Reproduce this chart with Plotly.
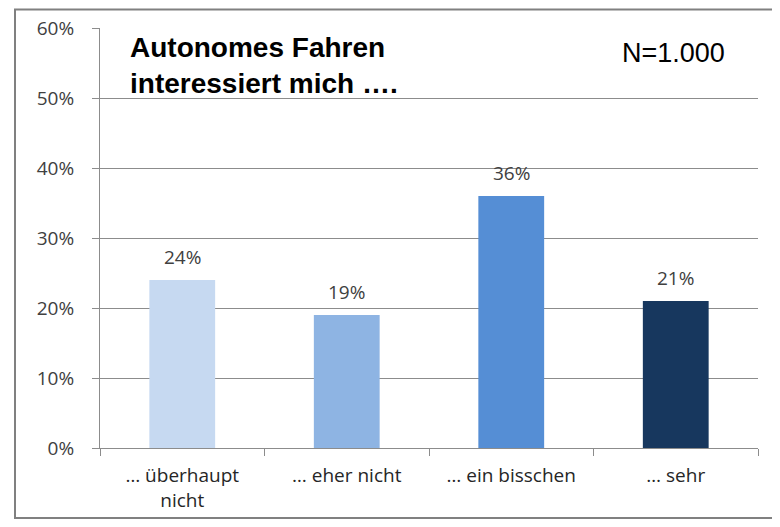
import plotly.graph_objects as go

categories = ["… überhaupt<br>nicht", "… eher nicht", "… ein bisschen", "… sehr"]
values = [24, 19, 36, 21]
bar_colors = ["#C6D9F1", "#8EB4E3", "#558ED5", "#17375E"]
y_ticks = [0, 10, 20, 30, 40, 50, 60]
title_lines = ["Autonomes Fahren", "interessiert mich …."]
sample_note = "N=1.000"

# page body has an 8px margin; shrink the figure so the page never scrolls,
# and shift so marks land where the reference has them
OFF = 8
W, H = 780 - 2 * OFF, 527 - 2 * OFF
L, T = 100 - OFF, 28 - OFF
pw, ph = 658, 420
R, B = W - L - pw, H - T - ph

def px(xpix):
    return (xpix - OFF - L) / pw

def py(ypix):
    return (H - B - (ypix - OFF)) / ph

label_font = dict(family="Open Sans", size=19, color="#404040")

fig = go.Figure()
fig.add_trace(go.Bar(
    x=categories, y=values, marker=dict(color=bar_colors, line=dict(width=0)),
    width=0.4, hoverinfo="skip", showlegend=False,
))

annotations = []
for c, v in zip(categories, values):
    annotations.append(dict(
        x=c, y=v, xref="x", yref="y", text=f"{v}%", showarrow=False,
        yanchor="bottom", yshift=8, font=label_font,
    ))

annotations.append(dict(
    x=px(128), y=py(30), xref="paper", yref="paper", xanchor="left", yanchor="top",
    text="<b>" + "<br>".join(title_lines) + "</b>", align="left", showarrow=False,
    font=dict(family="Liberation Sans", size=28, color="#000000"),
))
annotations.append(dict(
    x=px(620), y=py(36), xref="paper", yref="paper", xanchor="left", yanchor="top",
    text=sample_note, showarrow=False,
    font=dict(family="Liberation Sans", size=27, color="#000000"),
))

shapes = [
    dict(type="rect", xref="paper", yref="paper", x0=px(15), x1=px(800), y0=py(518), y1=py(9.5),
         line=dict(color="#808080", width=2), fillcolor="rgba(0,0,0,0)", layer="above"),
    dict(type="rect", xref="paper", yref="paper", x0=px(128), x1=px(440), y0=py(112), y1=py(33),
         line=dict(width=0), fillcolor="white", layer="between"),
]

fig.update_layout(
    width=W, height=H, margin=dict(l=L, r=R, t=T, b=B, pad=0, autoexpand=False),
    paper_bgcolor="white", plot_bgcolor="white",
    annotations=annotations, shapes=shapes, bargap=0.6,
    xaxis=dict(
        showline=True, linecolor="#8c8c8c", linewidth=1, ticks="outside", tickson="boundaries",
        ticklen=7, tickcolor="#8c8c8c", showgrid=False, automargin=False,
        tickfont=dict(family="Open Sans", size=19, color="#262626"), ticklabelstandoff=10,
        fixedrange=True,
    ),
    yaxis=dict(
        range=[0, 60], tickvals=y_ticks, ticktext=[f"{t}%" for t in y_ticks],
        showline=True, linecolor="#8c8c8c", linewidth=1, ticks="outside", ticklen=7,
        tickcolor="#8c8c8c", showgrid=True, gridcolor="#8c8c8c", gridwidth=1, zeroline=False,
        tickfont=label_font, ticklabelstandoff=14, fixedrange=True, automargin=False,
    ),
)

fig.write_html("out.html")
